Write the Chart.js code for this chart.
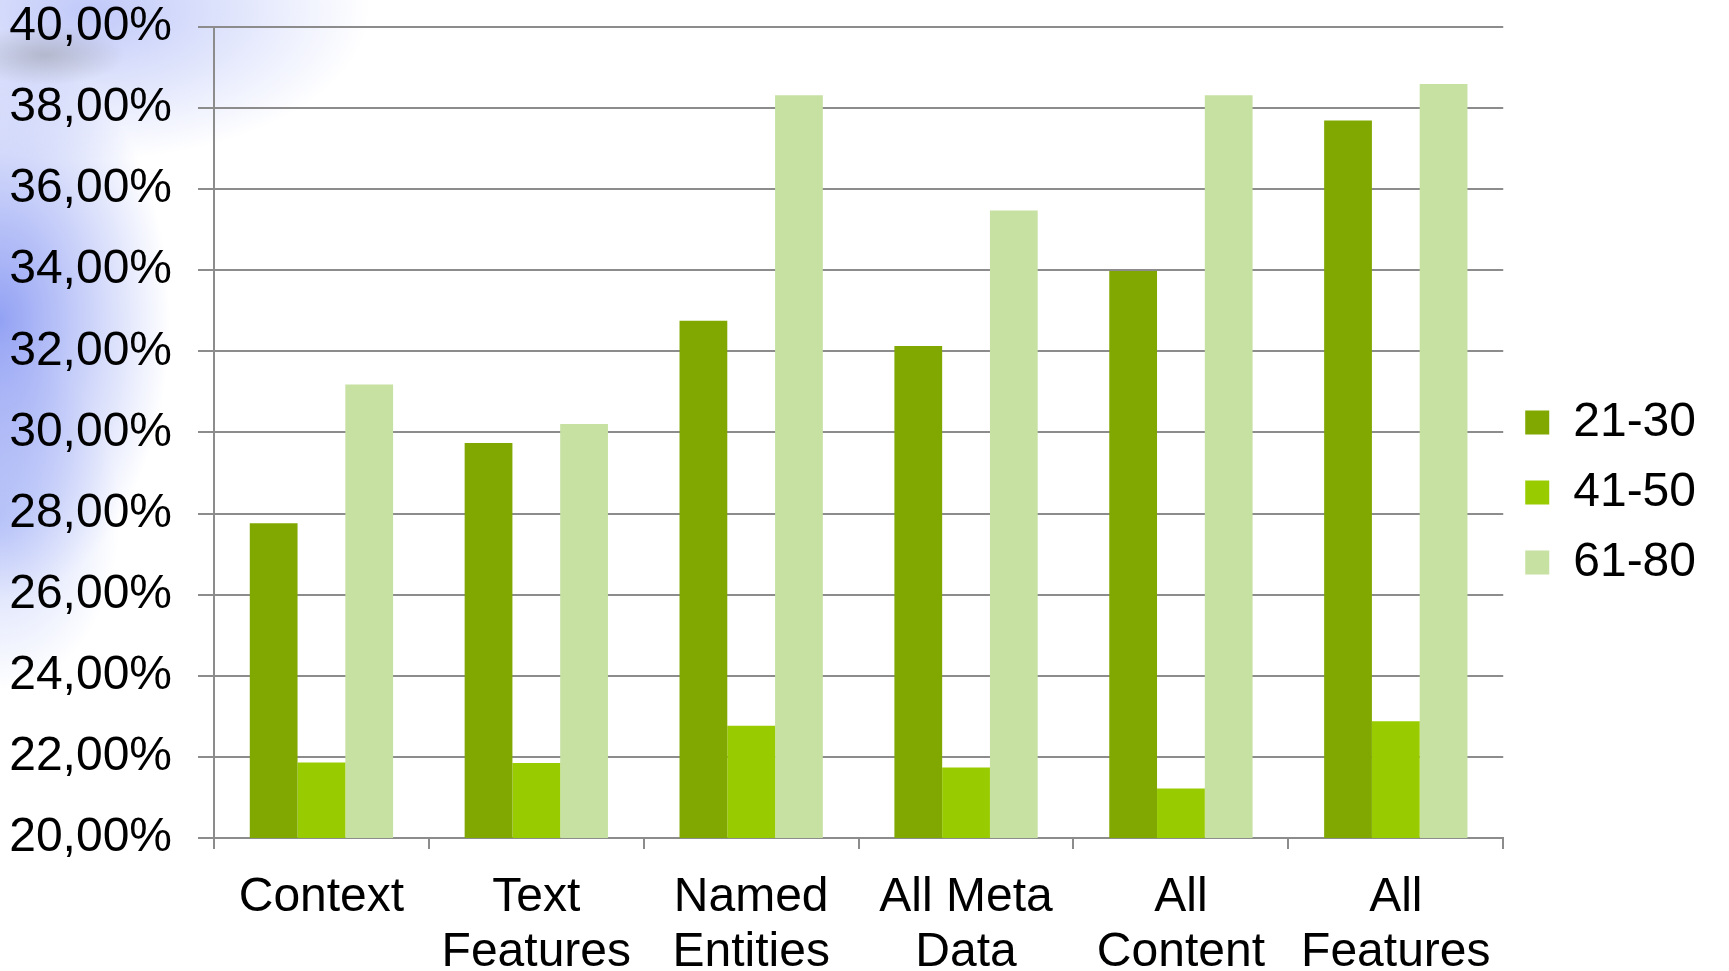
<!DOCTYPE html>
<html>
<head>
<meta charset="utf-8">
<script src="https://cdn.jsdelivr.net/npm/chart.js@4.4.1/dist/chart.umd.min.js"></script>
<style>
  html, body { margin: 0; padding: 0; }
  body {
    width: 1729px; height: 971px; overflow: hidden; position: relative;
    background:
      radial-gradient(ellipse 80px 30px at 45px 55px, rgba(120,120,120,0.35), rgba(120,120,120,0) 100%),
      radial-gradient(ellipse 170px 280px at 0px 320px, rgba(110,130,240,0.75), rgba(110,130,240,0) 100%),
      radial-gradient(ellipse 280px 150px at 90px 10px, rgba(150,165,245,0.6), rgba(150,165,245,0) 100%),
      radial-gradient(ellipse 120px 170px at 0px 520px, rgba(140,160,245,0.45), rgba(140,160,245,0) 100%),
      #ffffff;
  }
  /* shifted up so the 40% line sits near the top edge like the original */
  #wrap { position: absolute; left: 0; top: -28px; width: 1729px; height: 999px; }
</style>
</head>
<body>
<div id="wrap"><canvas id="barChart"></canvas></div>
<script>
// categories and series
const categories = [
  'Context',
  ['Text', 'Features'],
  ['Named', 'Entities'],
  ['All Meta', 'Data'],
  ['All', 'Content'],
  ['All', 'Features']
];
const seriesNames = ['21-30', '41-50', '61-80'];
const values2130 = [27.76, 29.74, 32.75, 32.13, 33.98, 37.69];
const values4150 = [21.86, 21.85, 22.77, 21.74, 21.22, 22.88];
const values6180 = [31.18, 30.21, 38.31, 35.47, 38.31, 38.59];
const seriesColors = ['#80a800', '#99cc00', '#c7e1a2'];
const yMin = 20, yMax = 40, yStep = 2;

const fontFamily = "'Liberation Sans', Arial, sans-serif";
const gridGray = '#8c8c8c';

const ctx = document.getElementById('barChart');
new Chart(ctx.getContext('2d'), {
  type: 'bar',
  data: {
    labels: categories,
    datasets: [values2130, values4150, values6180].map((vals, i) => ({
      label: seriesNames[i],
      data: vals,
      backgroundColor: seriesColors[i],
      borderWidth: 0,
      categoryPercentage: 0.667,
      barPercentage: 1.0
    }))
  },
  options: {
    responsive: true,
    maintainAspectRatio: false,
    animation: false,
    layout: { padding: { left: 0, right: 23, top: 0, bottom: 0 } },
    plugins: {
      tooltip: { enabled: false },
      legend: {
        position: 'right',
        // empty title only nudges the legend items down a bit
        title: { display: true, text: '', font: { size: 10 }, padding: 15 },
        labels: {
          color: '#000',
          font: { family: fontFamily, size: 48 },
          boxWidth: 24,
          boxHeight: 24,
          padding: 22
        }
      }
    },
    scales: {
      y: {
        min: yMin,
        max: yMax,
        afterFit: s => { s.width = 214; },
        ticks: {
          stepSize: yStep,
          color: '#000',
          padding: 26,
          font: { family: fontFamily, size: 48 },
          callback: v => v.toFixed(2).replace('.', ',') + '%'
        },
        grid: { color: gridGray, lineWidth: 2, tickLength: 16 },
        border: { color: gridGray, width: 2 }
      },
      x: {
        afterFit: s => { s.height = 133; },
        ticks: {
          color: '#000',
          padding: 21,
          maxRotation: 0,
          autoSkip: false,
          font: { family: fontFamily, size: 48, lineHeight: 1.15 }
        },
        grid: { drawOnChartArea: false, color: gridGray, lineWidth: 2, tickLength: 11 },
        border: { color: gridGray, width: 2 }
      }
    }
  }
});
</script>
</body>
</html>
